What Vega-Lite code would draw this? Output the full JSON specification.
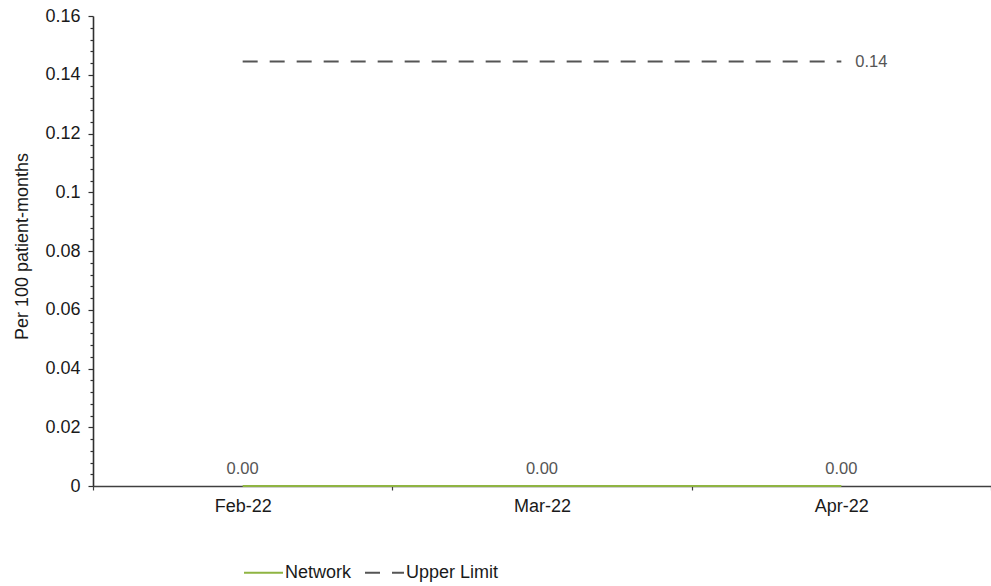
{
  "$schema": "https://vega.github.io/schema/vega-lite/v6.json",
  "autosize": {"type": "none"},
  "padding": {"left": 93, "top": 16, "right": 0, "bottom": 100},
  "width": 898,
  "height": 470,
  "background": "white",
  "config": {
    "view": {"stroke": null},
    "font": "Liberation Sans",
    "axis": {"labelFont": "Liberation Sans", "titleFont": "Liberation Sans", "labelColor": "#1a1a1a", "titleColor": "#1a1a1a", "grid": false}
  },
  "data": {
    "values": [
      {"month": "Feb-22", "series": "Network", "value": 0},
      {"month": "Mar-22", "series": "Network", "value": 0},
      {"month": "Apr-22", "series": "Network", "value": 0},
      {"month": "Feb-22", "series": "Upper Limit", "value": 0.1445},
      {"month": "Mar-22", "series": "Upper Limit", "value": 0.1445},
      {"month": "Apr-22", "series": "Upper Limit", "value": 0.1445}
    ]
  },
  "encoding": {
    "x": {
      "field": "month", "type": "nominal", "sort": ["Feb-22", "Mar-22", "Apr-22"],
      "scale": {"paddingInner": 0, "paddingOuter": 0},
      "axis": {
        "title": null, "labelAngle": 0, "labelFontSize": 18, "labelPadding": 7,
        "tickBand": "extent", "tickSize": 4, "tickColor": "#404040", "tickWidth": 1.2,
        "domainColor": "#404040", "domainWidth": 1.6, "zindex": 0
      }
    },
    "y": {
      "field": "value", "type": "quantitative",
      "scale": {"domain": [0, 0.16], "nice": false},
      "axis": {
        "title": "Per 100 patient-months", "titleFontSize": 18, "titleFontWeight": "normal",
        "titleX": -71, "titleY": 230, "titleAngle": -90, "titleAlign": "center", "titleBaseline": "middle",
        "values": [0,0.004,0.008,0.012,0.016,0.02,0.024,0.028,0.032,0.036,0.04,0.044,0.048,0.052,0.056,0.06,0.064,0.068,0.072,0.076,0.08,0.084,0.088,0.092,0.096,0.1,0.104,0.108,0.112,0.116,0.12,0.124,0.128,0.132,0.136,0.14,0.144,0.148,0.152,0.156,0.16],
        "labelExpr": "abs(datum.value*50 - round(datum.value*50)) < 0.001 ? format(datum.value, '.2~f') : ''",
        "labelFontSize": 18, "labelPadding": 8,
        "tickSize": {"condition": {"test": "abs(datum.value*50 - round(datum.value*50)) < 0.001", "value": 5}, "value": 3},
        "tickColor": "#303030", "tickWidth": 1.2,
        "domainColor": "#303030", "domainWidth": 1.6
      }
    }
  },
  "layer": [
    {
      "mark": {"type": "line", "strokeWidth": 2},
      "encoding": {
        "color": {
          "field": "series", "type": "nominal",
          "scale": {"domain": ["Network", "Upper Limit"], "range": ["#8fb442", "#555555"]},
          "legend": {
            "title": null, "orient": "none", "direction": "horizontal",
            "legendX": 150, "legendY": 536,
            "symbolType": "stroke", "symbolSize": 1521, "symbolStrokeWidth": 2,
            "labelFontSize": 18, "labelColor": "#1a1a1a", "labelOffset": 1, "columnPadding": 9
          }
        },
        "strokeDash": {
          "field": "series", "type": "nominal",
          "scale": {"domain": ["Network", "Upper Limit"], "range": [[1, 0], [15, 12]]},
          "legend": null
        }
      }
    },
    {
      "transform": [{"filter": "datum.series == 'Network'"}],
      "mark": {"type": "text", "dy": -17, "fontSize": 16.5, "color": "#555555"},
      "encoding": {"text": {"field": "value", "type": "quantitative", "format": ".2f"}}
    },
    {
      "transform": [{"filter": "datum.series == 'Upper Limit' && datum.month == 'Apr-22'"}],
      "mark": {"type": "text", "dx": 14, "align": "left", "baseline": "middle", "fontSize": 16.5, "color": "#555555"},
      "encoding": {"text": {"field": "value", "type": "quantitative", "format": ".2f"}}
    }
  ]
}
